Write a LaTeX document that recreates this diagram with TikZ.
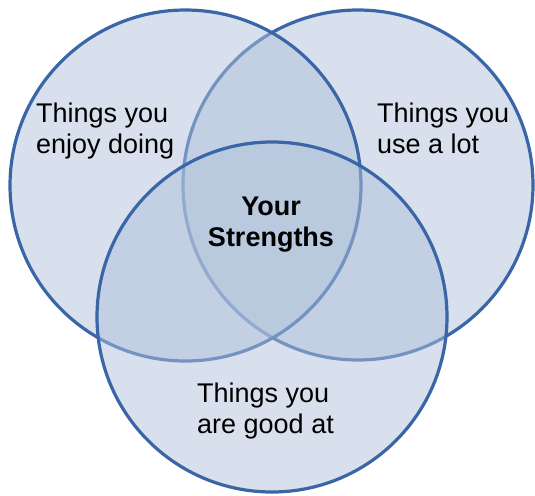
\documentclass[tikz,border=0pt]{standalone}
\usepackage{fontspec}
\setmainfont{Liberation Sans}
\definecolor{ringblue}{RGB}{58,102,168}
\definecolor{fillblue}{RGB}{175,193,218}
\tikzset{
  setcircle/.style={draw=ringblue, line width=3.2pt, fill=fillblue, fill opacity=0.5, draw opacity=1},
  lbl/.style={inner sep=0pt, font=\fontsize{27}{31}\selectfont, text=black}
}
\begin{document}
\begin{tikzpicture}[x=1pt,y=1pt]
\useasboundingbox (0,0) rectangle (535,-495);
% draw order: right, left, bottom
\path[setcircle] (358,-185) circle [radius=175];
\path[setcircle] (185.5,-185.5) circle [radius=175.5];
\path[setcircle] (272,-317) circle [radius=175];
\node[lbl, anchor=north west, align=left] (enjoy) at (36,-103) {Things you\\enjoy doing};
\node[lbl, anchor=north west, align=left] (use) at (377,-103) {Things you\\use a lot};
\node[lbl, anchor=north west, align=left] (good) at (197,-383) {Things you\\are good at};
\node[lbl, anchor=north, align=center, font=\fontsize{27}{31}\selectfont\bfseries] (strength) at (271,-197) {Your\\Strengths};
\end{tikzpicture}
\end{document}
